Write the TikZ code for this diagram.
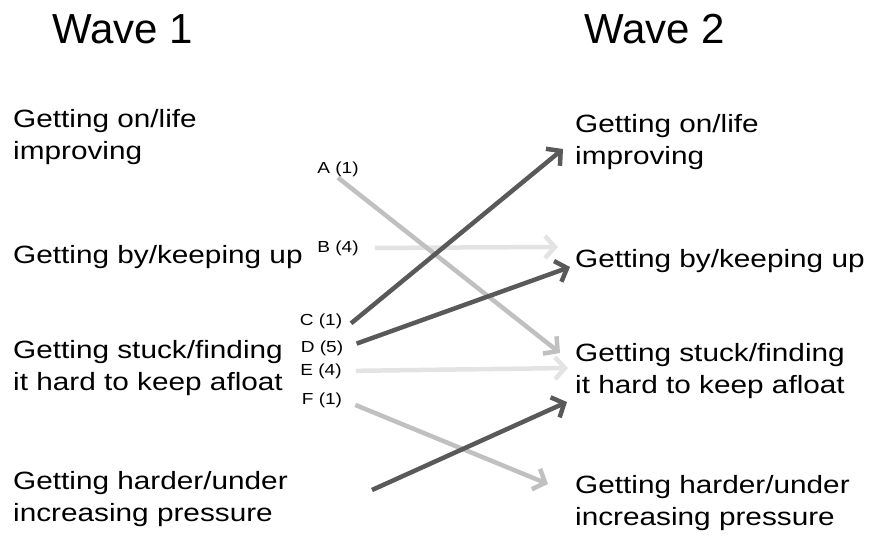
\documentclass[tikz,border=0pt]{standalone}
\usepackage{fontspec}
\setmainfont{Liberation Sans}
\newfontfamily\bodyfont[FakeStretch=1.19]{Liberation Sans}
\usetikzlibrary{arrows.meta}
\definecolor{wavedark}{HTML}{595959}
\definecolor{wavemid}{HTML}{C0C0C0}
\definecolor{wavepale}{HTML}{E3E3E3}

\begin{document}
\begin{tikzpicture}[
    x=1pt,y=-1pt,
    hd/.style  = {font=\fontsize{42}{48}\selectfont,anchor=base west,inner sep=0pt},
    st/.style  = {font=\bodyfont\fontsize{25}{32}\selectfont,align=left,
                  anchor=base west,inner sep=0pt},
    lb/.style  = {font=\bodyfont\fontsize{16}{18}\selectfont,inner sep=1pt},
    mv/.style  = {-{Straight Barb[length=10pt,width=22pt]},line width=4.5pt},
  ]
  \useasboundingbox (0,0) rectangle (869,536);

  \node[hd] (t1) at (52,43) {Wave 1};
  \node[hd] (t2) at (584,43) {Wave 2};

  % two-line nodes sit on the baseline of their last line
  \node[st] (w1on)     at (13,159) {Getting on/life\\improving};
  \node[st] (w1by)     at (13,263) {Getting by/keeping up};
  \node[st] (w1stuck)  at (13,390) {Getting stuck/finding\\it hard to keep afloat};
  \node[st] (w1harder) at (13,521) {Getting harder/under\\increasing pressure};

  \node[st] (w2on)     at (575,164) {Getting on/life\\improving};
  \node[st] (w2by)     at (575,267) {Getting by/keeping up};
  \node[st] (w2stuck)  at (575,393) {Getting stuck/finding\\it hard to keep afloat};
  \node[st] (w2harder) at (575,525) {Getting harder/under\\increasing pressure};

  \node[lb] (lA) at (338,169) {A (1)};
  \node[lb] (lB) at (338,248) {B (4)};
  \node[lb] (lC) at (321,321) {C (1)};
  \node[lb] (lD) at (322,348) {D (5)};
  \node[lb] (lE) at (321,371) {E (4)};
  \node[lb] (lF) at (322,400) {F (1)};

  \coordinate (cA) at (560,353);
  \coordinate (cB) at (558,247);
  \coordinate (cC) at (563,149);
  \coordinate (cD) at (570,267);
  \coordinate (cE) at (568,368);
  \coordinate (cF) at (548,484);
  \coordinate (h0) at (372,490);
  \coordinate (cH) at (567,402);

  % pale first, dark on top
  \draw[mv,wavepale,shorten <=15pt] (lB.east) -- (cB);
  \draw[mv,wavepale,shorten <=13pt] (lE.east) -- (cE);
  \draw[mv,wavemid] (lA.south) -- (cA);
  \draw[mv,wavemid,shorten <=13pt] (lF.east) -- (cF);
  \draw[mv,wavedark,shorten <=10pt] (lC.south east) -- (cC);
  \draw[mv,wavedark,shorten <=13pt] (lD.east) -- (cD);
  \draw[mv,wavedark] (h0) -- (cH);

\end{tikzpicture}
\end{document}
